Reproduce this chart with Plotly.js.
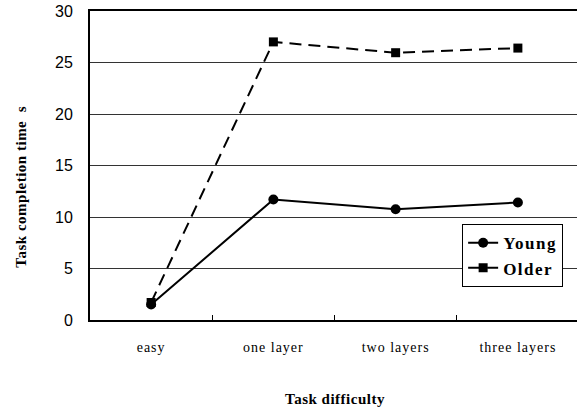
<!DOCTYPE html>
<html><head><meta charset="utf-8">
<script src="https://cdn.plot.ly/plotly-3.0.1.min.js"></script>
<style>
html,body{margin:0;padding:0;overflow:hidden;background:#fff}
.xtick text{letter-spacing:1px}
.legendtext{letter-spacing:1.5px}
.annotation-text{letter-spacing:0.5px}
</style>
</head><body>
<div id="chart"></div>
<script>
const categories = ['easy', 'one layer', 'two layers', 'three layers'];
const youngValues = [1.5, 11.7, 10.75, 11.4];
const olderValues = [1.7, 27.0, 25.95, 26.4];
const yTickVals = [0, 5, 10, 15, 20, 25, 30];

const SERIF = '"Liberation Serif", "Times New Roman", Times, "DejaVu Serif", serif';
const SANS = '"Liberation Sans", Arial, sans-serif';

const data = [
  {x: categories, y: olderValues, name: 'Older', type: 'scatter', mode: 'lines+markers',
   line: {color: '#000', width: 2, dash: '12px,7px'},
   marker: {symbol: 'square', size: 9, color: '#000'}},
  {x: categories, y: youngValues, name: 'Young', type: 'scatter', mode: 'lines+markers',
   line: {color: '#000', width: 2},
   marker: {symbol: 'circle', size: 10, color: '#000'}}
];

const layout = {
  width: 590, height: 407,
  margin: {l: 90, r: 11, t: 11, b: 87},
  paper_bgcolor: '#fff', plot_bgcolor: '#fff',
  showlegend: true,
  legend: {x: 0.761, y: 0.31, xanchor: 'left', yanchor: 'top', traceorder: 'reversed',
    bordercolor: '#000', borderwidth: 1, bgcolor: '#fff',
    font: {family: SERIF, size: 17, color: '#000', weight: 'bold'},
    itemwidth: 30, tracegroupgap: 0},
  xaxis: {type: 'category', range: [-0.5, 3.5], showgrid: false, zeroline: false,
    showline: true, linecolor: '#000', linewidth: 2, mirror: true,
    ticks: 'inside', tickson: 'boundaries', ticklen: 5, tickcolor: '#000', tickwidth: 1,
    tickfont: {family: SERIF, size: 14, color: '#000'},
    ticklabelstandoff: 13},
  yaxis: {range: [0, 30], tickvals: yTickVals, showgrid: true, gridcolor: '#333', gridwidth: 1,
    zeroline: false, showline: true, linecolor: '#000', linewidth: 2,
    ticks: 'outside', ticklen: 12, tickcolor: 'rgba(0,0,0,0)',
    tickfont: {family: SANS, size: 16, color: '#000'}},
  annotations: [
    {text: 'Task difficulty', xref: 'paper', yref: 'paper', x: 0.5, y: -0.255,
     xanchor: 'center', yanchor: 'middle', showarrow: false,
     font: {family: SERIF, size: 15, color: '#000', weight: 'bold'}},
    {text: 'Task completion time  s', xref: 'paper', yref: 'paper', x: -0.14, y: 0.43,
     xanchor: 'center', yanchor: 'middle', textangle: -90, showarrow: false,
     font: {family: SERIF, size: 15, color: '#000', weight: 'bold'}}
  ]
};

Plotly.newPlot('chart', data, layout, {displayModeBar: false, staticPlot: true});
</script>
</body></html>
